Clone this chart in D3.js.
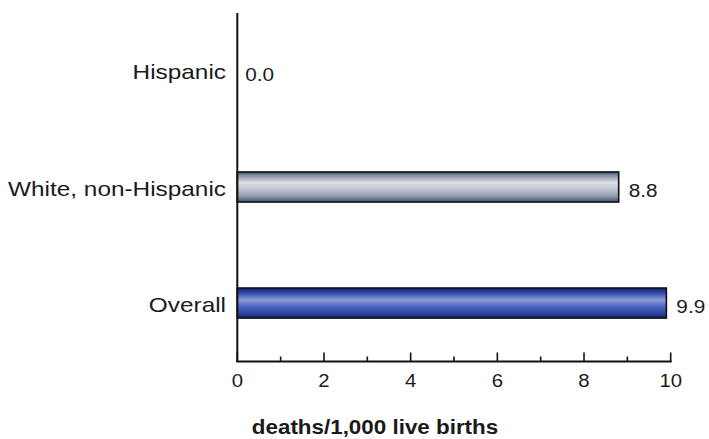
<!DOCTYPE html>
<html>
<head>
<meta charset="utf-8">
<script src="https://cdn.jsdelivr.net/npm/d3@7"></script>
<style>
  html, body { margin: 0; padding: 0; background: #fff; }
  svg { display: block; }
  text { font-family: "Liberation Sans", Arial, sans-serif; fill: #1a1a1a; }
</style>
</head>
<body>
<div id="chart"></div>
<script>
const categories = ["Hispanic", "White, non-Hispanic", "Overall"];
const values = [0.0, 8.8, 9.9];
const valueLabels = ["0.0", "8.8", "9.9"];
const xTicks = [0, 2, 4, 6, 8, 10];
const xMinorTicks = [1, 3, 5, 7, 9];
const axisTitle = "deaths/1,000 live births";

const W = 709, H = 439;
const svg = d3.select("#chart").append("svg").attr("width", W).attr("height", H);

const x = d3.scaleLinear().domain([0, 10]).range([237.3, 670.7]);
const y = d3.scaleBand().domain(categories).range([13, 361])
  .paddingInner(0.741).paddingOuter(0.37);

const defs = svg.append("defs");
function grad(id, stops) {
  const g = defs.append("linearGradient").attr("id", id)
    .attr("x1", 0).attr("y1", 0).attr("x2", 0).attr("y2", 1);
  stops.forEach(s => g.append("stop").attr("offset", s[0]).attr("stop-color", s[1]));
}
grad("gGray", [[0, "#3f5468"], [0.12, "#8590a4"], [0.35, "#dcdee8"], [0.55, "#c6c9d6"], [0.8, "#939bb0"], [1, "#3a5870"]]);
grad("gBlue", [[0, "#18247a"], [0.15, "#2c46a6"], [0.4, "#8c9ed8"], [0.6, "#4d68c0"], [0.85, "#2a44a2"], [1, "#141f6c"]]);
const fills = ["url(#gGray)", "url(#gGray)", "url(#gBlue)"];

// bars
svg.selectAll("rect.bar").data(categories).enter().append("rect")
  .attr("class", "bar")
  .attr("x", x(0))
  .attr("y", d => y(d))
  .attr("width", (d, i) => Math.max(0, x(values[i]) - x(0)))
  .attr("height", y.bandwidth())
  .attr("fill", (d, i) => fills[i])
  .attr("stroke", (d, i) => values[i] > 0 ? "#111" : "none")
  .attr("stroke-width", 1.6);

// y axis line
svg.append("line").attr("x1", x(0)).attr("x2", x(0))
  .attr("y1", 13).attr("y2", 362).attr("stroke", "#111").attr("stroke-width", 2);

// x axis
const axisY = 361.5;
svg.append("line").attr("x1", x(0) - 1).attr("x2", x(10) + 1)
  .attr("y1", axisY).attr("y2", axisY).attr("stroke", "#111").attr("stroke-width", 2);
svg.selectAll("line.major").data(xTicks).enter().append("line")
  .attr("x1", d => x(d)).attr("x2", d => x(d))
  .attr("y1", axisY).attr("y2", axisY - 9)
  .attr("stroke", "#111").attr("stroke-width", 1.6);
svg.selectAll("line.minor").data(xMinorTicks).enter().append("line")
  .attr("x1", d => x(d)).attr("x2", d => x(d))
  .attr("y1", axisY).attr("y2", axisY - 5)
  .attr("stroke", "#111").attr("stroke-width", 1.6);

// tick labels
svg.selectAll("text.tick").data(xTicks).enter().append("text")
  .attr("class", "tick")
  .attr("transform", d => `translate(${x(d)},386.5) scale(1.1,1)`)
  .attr("text-anchor", "middle")
  .style("font-size", "18.5px")
  .text(d => d);

// category labels
svg.selectAll("text.cat").data(categories).enter().append("text")
  .attr("class", "cat")
  .attr("transform", d => `translate(226,${y(d) + y.bandwidth() / 2 + 8.5}) scale(1.16,1)`)
  .attr("text-anchor", "end")
  .style("font-size", "21px")
  .text(d => d);

// value labels
svg.selectAll("text.val").data(categories).enter().append("text")
  .attr("class", "val")
  .attr("transform", (d, i) => `translate(${x(values[i]) + (values[i] > 0 ? 10 : 8)},${y(d) + y.bandwidth() / 2 + 10}) scale(1.12,1)`)
  .attr("text-anchor", "start")
  .style("font-size", "18.5px")
  .text((d, i) => valueLabels[i]);

// axis title
svg.append("text")
  .attr("transform", "translate(375,433.5) scale(1.12,1)")
  .attr("text-anchor", "middle")
  .style("font-size", "20px")
  .style("font-weight", "bold")
  .text(axisTitle);
</script>
</body>
</html>
